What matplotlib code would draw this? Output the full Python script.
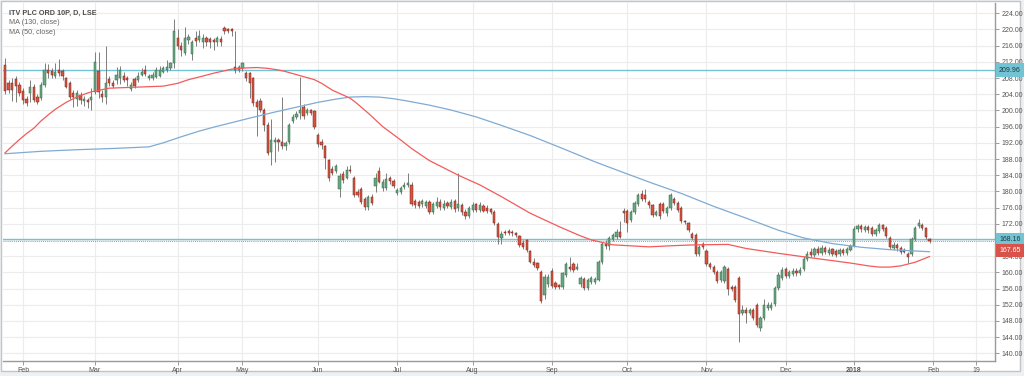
import pandas as pd
import matplotlib
matplotlib.use("Agg")
import matplotlib.pyplot as plt
from matplotlib.patches import Rectangle

plt.rcParams["font.family"] = ["Liberation Sans", "DejaVu Sans"]

# ---------------------------------------------------------------
# Data: ITV PLC ORD 10P daily candles, 25 Jan 2017 .. 31 Jan 2018
# ---------------------------------------------------------------
START_DATE = "2017-01-25"
END_DATE = "2018-03-02"
UK_HOLIDAYS = ["2017-04-14", "2017-04-17", "2017-05-01", "2017-05-29",
               "2017-08-28", "2017-12-25", "2017-12-26", "2018-01-01"]

opens = [
    211.2, 206.7, 206.9, 207.7, 206.3,
    204.7, 202.8, 204.2, 205.9, 203.4, 203.0, 206.3, 209.9, 209.7, 208.6,
    210.0, 209.7, 207.9, 206.9, 204.2, 202.8, 203.9, 202.4, 202.7, 202.5,
    204.5, 209.8, 204.0, 203.2, 207.7, 206.8, 207.4, 207.9, 208.4, 208.1,
    205.3, 207.7, 207.6, 208.8, 210.0, 208.1, 207.9, 208.3, 208.6, 209.6,
    210.0, 210.4, 211.6, 217.8, 216.0, 214.3, 217.3, 214.0, 218.0, 217.5,
    216.8, 217.8, 217.6, 217.5, 216.9, 217.6, 220.4, 220.1, 220.0, 210.8,
    210.0, 210.4, 209.2, 209.2, 207.9, 202.2, 202.4, 200.1, 196.4, 189.7,
    192.3, 192.8, 192.3, 191.2, 192.3, 197.5, 198.5, 199.3, 200.9, 199.4,
    200.0, 199.9, 194.0, 192.3, 191.1, 187.8, 185.5, 185.0, 180.6, 184.4,
    183.4, 185.4, 183.2, 179.9, 180.5, 178.0, 176.1, 178.7, 181.4, 185.1,
    180.8, 180.8, 183.4, 182.6, 179.5, 179.8, 181.2, 181.6, 181.7, 177.7,
    177.4, 176.8, 176.5, 177.4, 175.0, 176.5, 177.5, 176.0, 177.2, 176.2,
    177.6, 175.8, 176.6, 175.0, 174.0, 175.5, 176.8, 175.5, 176.4, 176.0,
    175.6, 175.0, 172.0, 168.4, 170.0, 170.2, 170.0, 169.6, 168.9, 167.3,
    167.9, 165.3, 162.6, 162.2, 160.2, 154.4, 157.0, 160.4, 157.3, 156.8,
    156.5, 159.3, 161.4, 162.1, 160.9, 157.0, 158.3, 156.1, 157.7, 157.7,
    158.2, 162.5, 167.0, 166.6, 168.3, 168.8, 170.0, 175.2, 175.2, 172.9,
    175.0, 176.9, 179.3, 179.1, 177.4, 176.6, 174.2, 176.9, 176.9, 174.6,
    175.8, 178.2, 177.1, 176.0, 172.7, 172.1, 169.4, 169.3, 164.5, 167.1,
    165.3, 162.0, 161.3, 160.0, 158.1, 157.9, 160.8, 156.3, 156.3, 158.6,
    150.0, 150.7, 150.0, 150.7, 151.9, 146.2, 148.8, 151.3, 151.3, 152.1,
    156.1, 158.5, 160.8, 159.0, 159.6, 160.4, 159.8, 160.8, 163.3, 165.0,
    164.2, 165.8, 164.9, 166.0, 164.8, 165.7, 165.2, 164.5, 165.6, 164.9,
    165.6, 166.6, 170.6, 171.5, 170.5, 171.3, 170.9, 169.4, 170.2, 171.6,
    171.0, 168.4, 166.0, 166.7, 166.0, 165.6, 164.6, 164.5, 168.2, 171.5,
    171.7, 171.0, 168.2,
]

highs = [
    213.0, 207.6, 208.0, 208.5, 207.0,
    205.5, 203.5, 207.5, 206.5, 204.0, 207.0, 211.8, 211.5, 210.5, 211.8,
    212.8, 210.2, 208.3, 207.2, 205.0, 205.0, 204.5, 203.5, 203.0, 205.5,
    214.5, 214.5, 205.0, 216.0, 208.5, 207.5, 210.8, 211.0, 209.5, 208.5,
    207.0, 208.2, 209.4, 210.5, 211.2, 209.0, 209.5, 210.8, 211.0, 211.0,
    212.5, 212.0, 222.6, 220.0, 217.0, 220.5, 219.0, 217.5, 219.5, 219.8,
    219.0, 218.5, 218.2, 218.0, 218.5, 218.3, 220.8, 220.4, 220.3, 219.5,
    211.2, 212.0, 209.8, 209.5, 208.2, 202.8, 203.0, 200.5, 197.2, 198.0,
    193.5, 193.3, 203.2, 192.5, 197.0, 199.0, 199.8, 208.3, 201.5, 200.5,
    200.4, 200.2, 194.5, 193.0, 191.5, 188.0, 186.3, 186.8, 184.5, 185.0,
    186.2, 186.5, 183.8, 180.5, 181.0, 178.5, 179.2, 179.3, 184.5, 186.0,
    183.0, 184.5, 183.8, 183.0, 180.8, 181.3, 182.2, 184.6, 182.2, 178.2,
    177.9, 178.2, 177.9, 177.9, 177.3, 178.5, 178.0, 177.8, 177.6, 178.0,
    178.2, 184.5, 177.2, 175.6, 176.5, 177.3, 177.2, 177.5, 177.0, 176.6,
    176.0, 175.4, 172.4, 170.2, 170.4, 170.6, 170.4, 170.0, 169.3, 168.0,
    168.3, 165.6, 163.5, 162.6, 160.6, 159.5, 159.5, 161.0, 157.8, 157.2,
    160.2, 162.5, 163.9, 162.6, 162.2, 159.0, 158.8, 158.6, 159.0, 158.8,
    163.0, 167.5, 168.0, 169.0, 169.8, 170.8, 172.6, 175.8, 175.7, 175.4,
    177.6, 179.6, 180.3, 180.6, 177.9, 177.0, 175.5, 177.4, 177.4, 176.3,
    179.7, 178.7, 177.6, 176.4, 173.0, 172.5, 170.0, 169.8, 166.8, 167.6,
    165.8, 162.5, 161.8, 160.5, 160.6, 161.8, 161.3, 156.8, 156.8, 159.2,
    152.0, 151.5, 151.2, 151.2, 152.4, 149.2, 153.3, 152.6, 152.6, 156.6,
    160.2, 161.2, 161.4, 160.5, 161.0, 161.0, 161.2, 164.0, 165.3, 166.0,
    166.3, 166.4, 166.7, 166.5, 166.2, 166.1, 165.7, 166.0, 166.0, 166.2,
    167.0, 171.5, 172.0, 172.0, 171.8, 171.8, 171.4, 171.0, 172.1, 172.0,
    171.4, 168.9, 167.4, 167.2, 166.5, 166.0, 165.0, 168.7, 171.4, 173.3,
    172.3, 171.3, 168.4,
]

lows = [
    204.0, 204.3, 202.4, 202.0, 203.5,
    201.5, 201.0, 202.0, 202.0, 201.5, 202.5, 205.8, 208.0, 208.0, 208.0,
    208.5, 207.5, 205.5, 202.8, 200.8, 201.0, 201.5, 201.0, 200.6, 200.0,
    204.0, 203.0, 202.0, 201.5, 206.0, 205.5, 206.5, 206.5, 207.0, 206.0,
    204.8, 205.5, 207.0, 208.5, 208.5, 207.5, 207.5, 208.0, 208.3, 209.2,
    209.6, 210.0, 210.5, 215.2, 213.5, 213.8, 216.5, 212.5, 216.0, 216.8,
    215.5, 216.0, 215.5, 215.0, 216.0, 216.0, 218.8, 219.2, 218.5, 209.3,
    209.4, 209.8, 207.2, 203.0, 201.0, 193.8, 199.5, 194.8, 189.0, 186.5,
    187.3, 190.0, 190.5, 190.3, 191.8, 197.0, 198.0, 198.0, 198.0, 198.8,
    198.8, 195.5, 191.0, 190.5, 185.5, 182.5, 184.0, 184.5, 178.7, 182.0,
    183.0, 184.5, 178.7, 178.5, 177.0, 175.4, 175.5, 176.6, 179.9, 182.0,
    180.0, 180.3, 181.8, 180.8, 179.0, 179.3, 180.6, 181.0, 176.5, 176.0,
    175.8, 176.2, 176.0, 174.4, 174.5, 176.0, 175.5, 175.5, 175.8, 175.6,
    175.0, 175.2, 174.2, 173.2, 173.5, 175.0, 174.8, 175.0, 174.8, 174.6,
    174.5, 171.8, 167.0, 167.0, 169.2, 169.3, 169.1, 168.8, 166.3, 165.8,
    165.0, 162.2, 161.3, 160.5, 152.4, 153.5, 156.5, 156.2, 156.0, 156.0,
    156.0, 158.8, 160.3, 160.0, 160.5, 156.5, 155.6, 155.6, 157.2, 157.2,
    157.8, 162.0, 165.8, 165.5, 167.8, 168.3, 168.4, 172.5, 170.0, 172.5,
    174.5, 176.4, 177.7, 177.5, 176.0, 173.6, 173.8, 173.2, 174.6, 174.0,
    175.3, 176.6, 174.9, 172.2, 172.0, 170.0, 168.0, 164.0, 164.0, 165.8,
    161.5, 160.8, 159.5, 157.3, 157.6, 157.4, 154.5, 155.5, 152.7, 142.9,
    149.4, 147.6, 149.5, 148.2, 146.5, 145.6, 148.3, 150.7, 150.6, 151.6,
    155.6, 158.0, 158.7, 158.5, 159.0, 159.2, 159.3, 160.3, 162.8, 163.8,
    163.8, 164.4, 164.3, 164.5, 164.2, 164.1, 163.9, 164.0, 164.4, 164.4,
    165.2, 166.2, 170.0, 169.9, 170.0, 169.8, 168.9, 168.9, 169.7, 170.2,
    168.5, 165.8, 165.5, 165.3, 164.5, 164.7, 162.4, 164.0, 167.8, 171.0,
    170.5, 168.3, 167.2,
]

closes = [
    204.7, 205.1, 205.1, 206.0, 204.2,
    202.6, 201.8, 205.9, 202.6, 202.0, 206.3, 209.9, 209.2, 208.8, 209.5,
    209.3, 208.4, 205.9, 203.4, 203.4, 204.4, 202.6, 202.8, 202.0, 203.2,
    212.0, 204.5, 203.2, 206.8, 206.8, 206.0, 208.8, 210.0, 207.4, 207.4,
    206.3, 206.1, 208.6, 209.6, 209.0, 208.5, 208.8, 210.1, 210.1, 210.4,
    210.8, 211.6, 219.5, 215.8, 215.0, 217.8, 218.2, 216.8, 217.2, 218.4,
    217.8, 217.0, 216.9, 216.8, 217.8, 216.8, 219.5, 219.6, 219.5, 210.0,
    210.8, 211.6, 207.9, 206.7, 201.8, 200.8, 200.1, 196.4, 189.4, 192.7,
    192.7, 192.2, 191.2, 192.0, 196.4, 198.4, 199.2, 200.1, 198.6, 200.0,
    199.4, 196.0, 191.8, 191.4, 188.2, 183.2, 184.6, 186.3, 183.9, 182.8,
    185.4, 185.0, 179.1, 179.1, 177.5, 176.1, 178.7, 177.1, 183.4, 182.4,
    182.4, 183.0, 182.5, 181.3, 180.3, 180.9, 181.7, 182.0, 177.0, 176.6,
    176.4, 177.6, 177.3, 175.0, 176.8, 177.5, 176.2, 177.0, 176.4, 177.4,
    175.6, 176.9, 174.8, 173.8, 175.8, 176.6, 175.4, 176.7, 175.2, 175.1,
    175.0, 172.2, 168.7, 169.5, 169.7, 169.8, 169.6, 169.2, 166.8, 166.3,
    165.5, 162.6, 161.8, 161.0, 152.8, 158.9, 158.9, 156.7, 156.5, 156.4,
    159.8, 162.0, 160.8, 160.6, 161.4, 158.5, 156.1, 158.1, 158.5, 158.3,
    162.5, 167.0, 166.4, 168.6, 169.3, 170.0, 168.8, 174.6, 172.3, 174.8,
    177.1, 179.0, 178.2, 178.2, 176.6, 174.1, 175.0, 173.8, 175.1, 175.8,
    179.1, 177.1, 175.4, 172.7, 172.5, 170.5, 168.6, 164.5, 166.2, 166.3,
    162.0, 161.3, 160.0, 157.9, 160.1, 161.2, 155.9, 156.0, 153.2, 149.8,
    150.7, 149.9, 150.7, 148.7, 147.0, 148.7, 152.0, 152.0, 152.0, 156.1,
    159.3, 160.6, 159.2, 160.0, 160.3, 159.8, 160.6, 163.4, 164.6, 164.3,
    165.8, 164.9, 165.9, 165.0, 165.6, 164.6, 164.4, 165.5, 164.9, 165.7,
    166.4, 170.8, 171.4, 170.6, 171.3, 170.4, 169.4, 170.4, 171.6, 170.8,
    169.0, 166.3, 166.8, 165.9, 165.0, 165.1, 163.8, 168.2, 170.9, 172.1,
    170.9, 168.7, 167.65,
]

# moving averages (bar number, value)
ma50_bar = [0, 2, 4, 6, 8, 10, 12, 14, 17, 19, 21, 24, 29, 35, 44, 48, 51,
            55, 58, 63, 67, 70, 73, 76, 78, 82, 86, 88, 91, 96, 98, 101,
            105, 110, 113, 118, 126, 132, 138, 146, 154, 160, 163, 169,
            179, 186, 192, 201, 206, 215, 224, 235, 240, 243, 246, 249,
            253, 257]
ma50_val = [189.5, 191.2, 192.8, 194.3, 195.6, 197.4, 198.9, 200.3, 202.0,
            202.9, 203.7, 204.6, 205.5, 205.7, 206.0, 206.7, 207.6, 208.5,
            209.2, 210.2, 210.5, 210.6, 210.4, 210.0, 209.6, 208.6, 207.6,
            206.7, 205.0, 203.0, 201.6, 199.3, 196.0, 192.7, 190.6, 187.6,
            184.0, 181.6, 178.7, 174.6, 171.3, 169.0, 168.0, 166.8, 166.3,
            166.6, 166.8, 166.9, 165.9, 164.7, 163.6, 162.3, 161.6, 161.3,
            161.3, 161.6, 162.5, 163.9]

ma130_bar = [0, 10, 20, 30, 40, 44, 49, 54, 59, 64, 68, 75, 82, 87, 92, 96,
             100, 104, 108, 112, 118, 124, 131, 138, 146, 155, 164, 173,
             180, 188, 197, 206, 215, 222, 230, 238, 246, 257]
ma130_val = [189.3, 189.9, 190.3, 190.6, 191.0, 192.0, 193.5, 194.9, 196.1,
             197.2, 198.1, 199.6, 201.0, 202.0, 202.8, 203.3, 203.4, 203.3,
             202.9, 202.3, 201.3, 200.1, 198.4, 196.3, 193.8, 190.6, 187.3,
             184.3, 182.0, 179.5, 176.3, 173.4, 170.4, 168.5, 167.1, 166.2,
             165.6, 165.1]

# horizontal lines drawn on the chart
level_lines = [209.96, 168.16]
last_price = 167.65

tick_dates = ["2017-02-01", "2017-03-01", "2017-04-03", "2017-05-02",
              "2017-06-01", "2017-07-03", "2017-08-01", "2017-09-01",
              "2017-10-02", "2017-11-01", "2017-12-01", "2018-01-02",
              "2018-02-01", "2018-02-19"]
tick_labels = ["Feb", "Mar", "Apr", "May", "Jun", "Jul", "Aug", "Sep",
               "Oct", "Nov", "Dec", "2018", "Feb", "19"]

# ---------------------------------------------------------------
# Trading calendar -> bar positions
# ---------------------------------------------------------------
days = pd.bdate_range(START_DATE, END_DATE)
days = days[~days.isin(pd.to_datetime(UK_HOLIDAYS))]
bar_of = {d: k for k, d in enumerate(days)}
tick_pos = [bar_of[pd.Timestamp(d)] for d in tick_dates]

xs = list(range(len(closes)))
is_up = [c >= o for o, c in zip(opens, closes)]
body_low = [min(o, c) for o, c in zip(opens, closes)]
body_h = [max(abs(c - o), 0.18) for o, c in zip(opens, closes)]

UP, UP_EDGE = "#6ba583", "#2f6b48"
DOWN, DOWN_EDGE = "#d75442", "#7a2418"
LEVEL_COLOR = "#72c3d4"
TEXT_COLOR = "#555555"

# ---------------------------------------------------------------
# Figure
# ---------------------------------------------------------------
W, H = 1024, 376
fig = plt.figure(figsize=(W / 100, H / 100), dpi=100)
fig.patch.set_facecolor("#eef1f4")

# chart frame
fig.add_artist(Rectangle((1 / W, 5 / H), 1019 / W, 370 / H,
                         transform=fig.transFigure, facecolor="white",
                         edgecolor="#c4c4c4", linewidth=1.0, zorder=-5))

ax = fig.add_axes([3 / W, 15 / H, 992 / W, 358 / H])
ax.set_facecolor("white")

# candles
ax.vlines(xs, lows, highs, color="#7d7d7d", linewidth=0.7, zorder=2)
ax.bar(xs, body_h, bottom=body_low, width=0.62,
       color=[UP if u else DOWN for u in is_up],
       edgecolor=[UP_EDGE if u else DOWN_EDGE for u in is_up],
       linewidth=0.35, zorder=3)

# moving averages
ax.plot(ma130_bar, ma130_val, color="#7fabd3", linewidth=0.9, zorder=4)
ax.plot(ma50_bar, ma50_val, color="#f25b5b", linewidth=0.9, zorder=4)

# levels
for lvl in level_lines:
    ax.axhline(lvl, color=LEVEL_COLOR, linewidth=1.0, zorder=1.5)
ax.axhline(last_price, color="#e0574a", linewidth=0.6,
           linestyle=(0, (1, 1.5)), zorder=1.5)

# axes
ax.set_xlim(-0.56, 275.2)
ax.set_ylim(138.1, 226.54)
ax.set_yticks(range(140, 225, 4))


def price_fmt(v, pos):
    # the 168 label sits under the level label box on the original
    return "" if abs(v - 168) < 0.01 else f"{v:.2f}"


ax.yaxis.set_major_formatter(plt.FuncFormatter(price_fmt))
ax.yaxis.tick_right()
ax.set_xticks(tick_pos)
ax.set_xticklabels(tick_labels)
for lab in ax.get_xticklabels():
    if lab.get_text() == "2018":
        lab.set_fontweight("bold")

ax.tick_params(axis="both", labelsize=5, labelcolor=TEXT_COLOR,
               color="#8c8c8c", length=3, width=0.6)
ax.tick_params(axis="y", pad=2)
ax.tick_params(axis="x", pad=1.5)

ax.grid(True, color="#ececec", linewidth=0.8, zorder=0)
ax.set_axisbelow(True)

for side in ["top", "left"]:
    ax.spines[side].set_visible(False)
for side in ["right", "bottom"]:
    ax.spines[side].set_color("#9a9a9a")
    ax.spines[side].set_linewidth(1.0)

# price labels on the axis
ytr = ax.get_yaxis_transform()
for lvl in level_lines:
    ax.annotate(f"{lvl:.2f}", xy=(1.0, lvl), xycoords=ytr,
                xytext=(4, 0), textcoords="offset pixels",
                ha="left", va="center", fontsize=5, color="#1f3a40",
                bbox=dict(boxstyle="square,pad=0.45", fc=LEVEL_COLOR, ec="none"),
                annotation_clip=False, zorder=6)
ax.annotate(f"{last_price:.2f}", xy=(1.0, last_price), xycoords=ytr,
            xytext=(4, -9), textcoords="offset pixels",
            ha="left", va="center", fontsize=5, color="white",
            bbox=dict(boxstyle="square,pad=0.45", fc="#d9534a", ec="none"),
            annotation_clip=False, zorder=6)

# legend text
fig.text(9 / W, 1 - 13 / H, "ITV PLC ORD 10P, D, LSE", fontsize=5.2,
         fontweight="bold", color="#4d4d4d", va="center", ha="left")
fig.text(9 / W, 1 - 23 / H, "MA (130, close)", fontsize=5.2,
         color="#666666", va="center", ha="left")
fig.text(9 / W, 1 - 32 / H, "MA (50, close)", fontsize=5.2,
         color="#666666", va="center", ha="left")

fig.savefig("out.png", dpi=100, facecolor=fig.get_facecolor())
